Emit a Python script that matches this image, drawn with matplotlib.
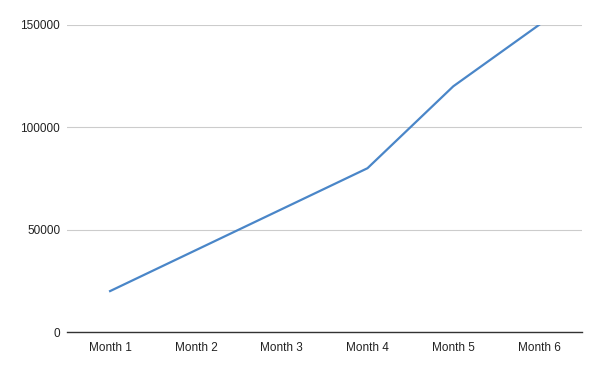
import matplotlib
matplotlib.use("Agg")
import matplotlib.pyplot as plt

months = ["Month 1", "Month 2", "Month 3", "Month 4", "Month 5", "Month 6"]
values = [20000, 40000, 60000, 80000, 120000, 150000]
y_ticks = [0, 50000, 100000, 150000]

plt.rcParams['font.family'] = ['Liberation Sans', 'DejaVu Sans']

fig = plt.figure(figsize=(6, 3.71), dpi=100)
ax = fig.add_axes([0.112, 0.105, 0.858, 0.828])

x = range(len(months))
ax.plot(x, values, color='#4a86c8', linewidth=1.6, zorder=3)

ax.set_xlim(-0.5, len(months) - 0.5)
ax.set_ylim(0, 150000)
ax.set_xticks(list(x))
ax.set_xticklabels(months)
ax.set_yticks(y_ticks)
ax.set_yticklabels([str(v) for v in y_ticks])

ax.grid(axis='y', color='#cccccc', linewidth=0.8)
ax.set_axisbelow(True)
for side in ['top', 'right', 'left']:
    ax.spines[side].set_visible(False)
ax.spines['bottom'].set_color('#333333')
ax.spines['bottom'].set_linewidth(1)
ax.tick_params(axis='both', length=0, labelsize=8.5, colors='#222222')
ax.tick_params(axis='x', pad=7)
ax.tick_params(axis='y', pad=5)

fig.savefig("out.png", dpi=100)
